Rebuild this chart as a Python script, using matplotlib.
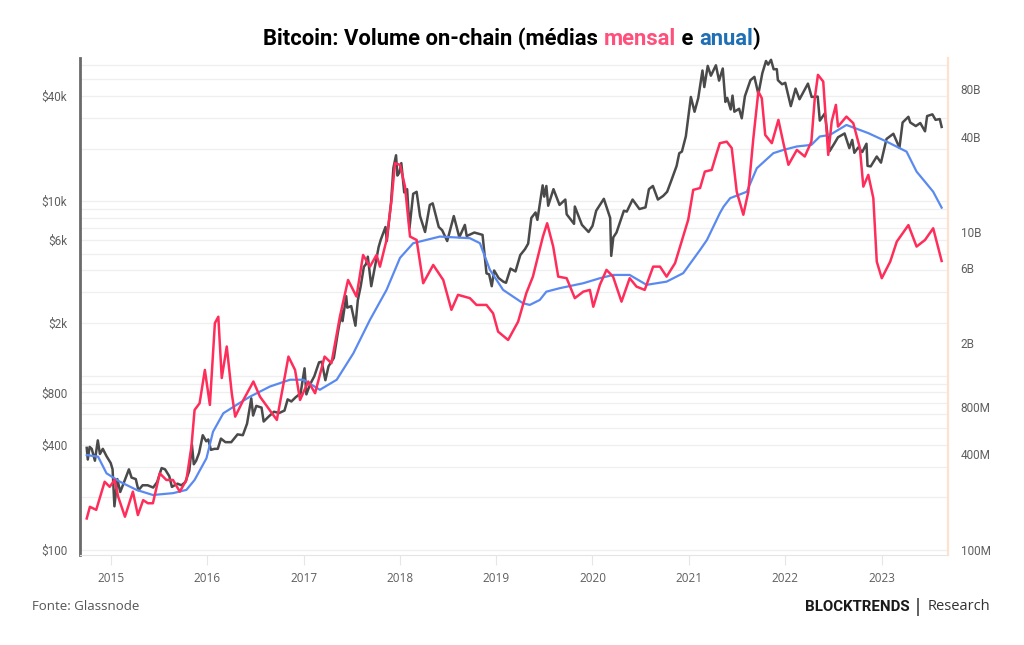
import pandas as pd
import numpy as np
import matplotlib
matplotlib.use('Agg')
import matplotlib.pyplot as plt
import matplotlib.dates as mdates
from matplotlib.ticker import FixedLocator, LogLocator, NullFormatter

# ---- data ----
price_dates = ['2014-10-01', '2014-10-05', '2014-10-12', '2014-10-20', '2014-11-01', '2014-11-12', '2014-11-20',
               '2014-12-01', '2014-12-15', '2014-12-31', '2015-01-07', '2015-01-14', '2015-01-25', '2015-02-05',
               '2015-02-15', '2015-03-10', '2015-03-20', '2015-04-05', '2015-04-15', '2015-05-01', '2015-05-20',
               '2015-06-10', '2015-06-25', '2015-07-12', '2015-07-25', '2015-08-10', '2015-08-20', '2015-09-10',
               '2015-09-25', '2015-10-10', '2015-10-25', '2015-11-04', '2015-11-11', '2015-11-20', '2015-12-01',
               '2015-12-15', '2015-12-28', '2016-01-05', '2016-01-15', '2016-01-28', '2016-02-10', '2016-02-22',
               '2016-03-10', '2016-04-01', '2016-04-25', '2016-05-15', '2016-05-31', '2016-06-16', '2016-06-23',
               '2016-07-05', '2016-07-25', '2016-08-02', '2016-08-20', '2016-09-10', '2016-09-30', '2016-10-20',
               '2016-11-01', '2016-11-15', '2016-12-01', '2016-12-20', '2017-01-04', '2017-01-11', '2017-01-25',
               '2017-02-10', '2017-02-28', '2017-03-10', '2017-03-24', '2017-04-05', '2017-04-25', '2017-05-10',
               '2017-05-25', '2017-05-28', '2017-06-11', '2017-06-15', '2017-06-30', '2017-07-16', '2017-07-25',
               '2017-08-05', '2017-08-17', '2017-08-25', '2017-09-01', '2017-09-14', '2017-09-30', '2017-10-12',
               '2017-10-20', '2017-11-07', '2017-11-12', '2017-11-28', '2017-12-07', '2017-12-17', '2017-12-22',
               '2017-12-29', '2018-01-06', '2018-01-17', '2018-01-28', '2018-02-06', '2018-02-20', '2018-03-05',
               '2018-03-18', '2018-04-06', '2018-04-24', '2018-05-05', '2018-05-28', '2018-06-10', '2018-06-29',
               '2018-07-24', '2018-08-14', '2018-09-04', '2018-09-11', '2018-10-10', '2018-11-10', '2018-11-20',
               '2018-11-25', '2018-12-05', '2018-12-15', '2018-12-24', '2019-01-10', '2019-01-28', '2019-02-07',
               '2019-02-24', '2019-03-15', '2019-04-02', '2019-04-20', '2019-05-02', '2019-05-14', '2019-05-30',
               '2019-06-06', '2019-06-26', '2019-07-02', '2019-07-10', '2019-07-17', '2019-08-06', '2019-08-29',
               '2019-09-20', '2019-09-25', '2019-10-23', '2019-10-26', '2019-11-22', '2019-12-17', '2020-01-01',
               '2020-01-15', '2020-02-13', '2020-03-08', '2020-03-12', '2020-03-20', '2020-04-01', '2020-04-29',
               '2020-05-10', '2020-06-01', '2020-06-27', '2020-07-20', '2020-08-02', '2020-08-17', '2020-09-05',
               '2020-09-25', '2020-10-10', '2020-10-25', '2020-11-15', '2020-11-25', '2020-12-05', '2020-12-20',
               '2021-01-08', '2021-01-22', '2021-02-05', '2021-02-21', '2021-02-28', '2021-03-13', '2021-03-25',
               '2021-04-13', '2021-04-25', '2021-05-09', '2021-05-19', '2021-05-26', '2021-06-08', '2021-06-15',
               '2021-06-22', '2021-07-10', '2021-07-20', '2021-08-01', '2021-08-22', '2021-09-06', '2021-09-21',
               '2021-10-06', '2021-10-20', '2021-10-28', '2021-11-08', '2021-11-18', '2021-11-30', '2021-12-04',
               '2021-12-20', '2022-01-01', '2022-01-22', '2022-02-09', '2022-02-24', '2022-03-28', '2022-04-11',
               '2022-05-04', '2022-05-12', '2022-05-31', '2022-06-18', '2022-07-08', '2022-07-20', '2022-08-14',
               '2022-09-01', '2022-09-12', '2022-09-20', '2022-10-05', '2022-10-20', '2022-11-05', '2022-11-09',
               '2022-11-21', '2022-12-14', '2022-12-30', '2023-01-20', '2023-02-15', '2023-03-10', '2023-03-22',
               '2023-04-13', '2023-04-20', '2023-05-11', '2023-05-28', '2023-06-15', '2023-06-23', '2023-07-13',
               '2023-07-25', '2023-08-10', '2023-08-17']
price_usd = [385, 330, 390, 380, 325, 425, 355,
             380, 345, 315, 290, 178, 255, 215,
             235, 290, 260, 255, 220, 235, 235,
             228, 245, 295, 290, 265, 230, 240,
             235, 245, 285, 400, 310, 325, 360,
             455, 420, 430, 375, 380, 380, 435,
             415, 415, 460, 455, 530, 740, 590,
             670, 655, 545, 580, 620, 610, 630,
             730, 710, 750, 790, 1100, 780, 890,
             990, 1190, 1200, 940, 1130, 1260, 1750,
             2350, 2050, 2850, 2450, 2500, 1930, 2700,
             3250, 4200, 4350, 4800, 3250, 4350, 5450,
             6000, 7100, 5900, 9800, 15500, 18300, 14000,
             14500, 16500, 11200, 11700, 7000, 11000, 11300,
             8200, 6650, 9500, 9700, 7100, 6800, 5900,
             8200, 6200, 7300, 6300, 6600, 6400, 4600,
             3850, 3800, 3250, 4000, 3620, 3450, 3400,
             4100, 3950, 4900, 5300, 5700, 8000, 8600,
             7800, 12300, 10600, 12200, 9400, 11700, 9500,
             10200, 8400, 7400, 9300, 7300, 6650, 7200,
             8800, 10300, 8000, 4850, 6200, 6600, 8800,
             8700, 10200, 9000, 9200, 11700, 12200, 10200,
             10700, 11300, 13000, 15900, 18800, 19200, 23500,
             39500, 32500, 38900, 56000, 45000, 59500, 52300,
             60000, 49000, 57500, 37000, 39000, 33500, 40200,
             32500, 33800, 29800, 39900, 49300, 51500, 41000,
             54000, 63500, 60500, 64500, 56900, 57000, 49300,
             46700, 47600, 35000, 44100, 38300, 47100, 39500,
             39700, 28900, 31800, 19300, 21600, 23200, 24400,
             20100, 22400, 18900, 20300, 19100, 21300, 15900,
             15800, 18000, 16600, 22700, 24300, 20200, 28200,
             30400, 28200, 26900, 28000, 25100, 30700, 31400,
             29200, 29500, 26600]

# monthly average on-chain volume (billions USD)
monthly_dates = ['2014-10-01', '2014-10-13', '2014-11-06', '2014-12-08', '2014-12-27', '2015-01-15', '2015-01-28',
                 '2015-02-23', '2015-03-25', '2015-04-13', '2015-05-03', '2015-05-21', '2015-06-09', '2015-07-05',
                 '2015-07-30', '2015-08-24', '2015-09-19', '2015-10-14', '2015-11-02', '2015-11-14', '2015-12-03',
                 '2015-12-23', '2016-01-11', '2016-01-30', '2016-02-12', '2016-02-25', '2016-03-15', '2016-04-03',
                 '2016-04-16', '2016-05-17', '2016-06-24', '2016-07-19', '2016-09-21', '2016-11-04', '2016-11-29',
                 '2016-12-18', '2017-01-18', '2017-02-13', '2017-03-21', '2017-04-16', '2017-05-18', '2017-06-18',
                 '2017-07-20', '2017-08-14', '2017-09-09', '2017-10-04', '2017-10-17', '2017-11-11', '2017-11-30',
                 '2017-12-13', '2018-01-01', '2018-01-20', '2018-02-08', '2018-03-05', '2018-03-30', '2018-05-07',
                 '2018-06-14', '2018-07-15', '2018-08-09', '2018-09-23', '2018-10-18', '2018-11-25', '2018-12-20',
                 '2019-01-08', '2019-02-15', '2019-03-25', '2019-04-25', '2019-05-20', '2019-06-27', '2019-07-13',
                 '2019-08-05', '2019-08-24', '2019-09-25', '2019-10-26', '2019-11-27', '2019-12-22', '2020-01-04',
                 '2020-01-29', '2020-02-23', '2020-03-19', '2020-04-20', '2020-05-21', '2020-06-16', '2020-07-17',
                 '2020-08-18', '2020-09-13', '2020-10-08', '2020-11-09', '2020-12-04', '2020-12-29', '2021-01-17',
                 '2021-02-12', '2021-03-02', '2021-03-28', '2021-04-16', '2021-04-28', '2021-05-24', '2021-06-12',
                 '2021-07-01', '2021-07-26', '2021-08-14', '2021-09-02', '2021-09-21', '2021-10-04', '2021-10-17',
                 '2021-11-11', '2021-12-06', '2021-12-25', '2022-01-13', '2022-02-14', '2022-03-16', '2022-04-10',
                 '2022-04-23', '2022-05-05', '2022-05-25', '2022-06-13', '2022-06-26', '2022-07-12', '2022-07-20',
                 '2022-08-21', '2022-09-16', '2022-10-11', '2022-10-24', '2022-11-12', '2022-12-01', '2022-12-14',
                 '2023-01-02', '2023-02-03', '2023-02-28', '2023-04-13', '2023-05-14', '2023-06-15', '2023-07-16',
                 '2023-08-17']
monthly_vol_b = [0.158, 0.187, 0.179, 0.269, 0.250, 0.276, 0.217,
                 0.162, 0.233, 0.166, 0.206, 0.197, 0.197, 0.304,
                 0.276, 0.276, 0.233, 0.276, 0.447, 0.761, 0.839,
                 1.36, 0.819, 2.68, 2.94, 1.21, 1.91, 0.970,
                 0.691, 0.880, 1.15, 0.923, 0.659, 1.65, 1.36,
                 0.880, 1.15, 0.970, 1.65, 1.50, 2.94, 5.01,
                 3.94, 7.20, 6.08, 7.20, 6.08, 8.95, 16.0,
                 27.2, 26.6, 19.4, 9.40, 8.95, 4.78, 6.23,
                 5.01, 3.25, 4.04, 3.85, 3.49, 3.49, 3.09,
                 2.37, 2.10, 2.74, 4.14, 5.26, 9.40, 11.4,
                 8.13, 5.26, 5.14, 3.85, 4.23, 4.34, 3.40,
                 4.67, 5.80, 5.26, 3.66, 5.14, 4.55, 4.34,
                 6.08, 6.08, 5.26, 6.39, 8.74, 12.0, 18.5,
                 19.0, 24.1, 24.7, 31.5, 36.4, 37.2, 33.9,
                 18.0, 12.9, 18.0, 39.1, 76.9, 69.9, 41.0,
                 36.4, 51.0, 36.4, 26.6, 33.0, 30.0, 37.2,
                 69.9, 98.0, 88.9, 30.7, 49.8, 63.4, 46.3,
                 53.5, 48.6, 33.9, 19.4, 23.0, 16.4, 6.54,
                 5.14, 6.54, 8.74, 11.1, 8.13, 8.95, 10.6,
                 6.6]

# yearly average on-chain volume (billions USD)
yearly_dates = ['2014-10-01', '2014-11-13', '2014-12-15', '2015-02-04', '2015-04-08', '2015-06-09', '2015-08-24',
                '2015-10-14', '2015-11-14', '2015-12-29', '2016-01-23', '2016-03-02', '2016-05-01', '2016-06-11',
                '2016-08-26', '2016-11-10', '2016-12-31', '2017-03-03', '2017-05-06', '2017-07-08', '2017-09-09',
                '2017-11-11', '2018-01-01', '2018-02-20', '2018-06-01', '2018-09-23', '2018-10-31', '2018-12-08',
                '2019-01-27', '2019-04-12', '2019-05-08', '2019-06-15', '2019-07-10', '2019-08-30', '2019-11-27',
                '2020-01-29', '2020-03-19', '2020-05-21', '2020-07-24', '2020-10-08', '2020-12-10', '2021-02-12',
                '2021-03-10', '2021-04-28', '2021-05-12', '2021-06-06', '2021-08-08', '2021-09-15', '2021-11-17',
                '2021-12-25', '2022-02-14', '2022-04-10', '2022-05-12', '2022-06-19', '2022-08-21', '2022-11-12',
                '2023-01-21', '2023-04-06', '2023-05-14', '2023-06-15', '2023-07-16', '2023-08-17']
yearly_vol_b = [0.396, 0.387, 0.304, 0.269, 0.239, 0.222, 0.228,
                0.239, 0.276, 0.378, 0.556, 0.726, 0.839, 0.923,
                1.07, 1.18, 1.18, 1.02, 1.18, 1.73, 2.81,
                4.34, 6.9, 8.54, 9.40, 9.18, 8.54, 5.80,
                4.34, 3.58, 3.49, 3.75, 4.23, 4.45, 4.78,
                5.14, 5.39, 5.39, 4.67, 4.89, 5.53, 7.75,
                8.95, 13.2, 14.5, 16.4, 18.0, 25.3, 31.5,
                33.0, 34.7, 35.5, 40.1, 41.0, 47.4, 42.1,
                37.2, 32.2, 24.1, 20.8, 18.0, 14.3]

years = [2015, 2016, 2017, 2018, 2019, 2020, 2021, 2022, 2023]
price_ticks = [100, 400, 800, 2000, 6000, 10000, 40000]
price_labels = ['$100', '$400', '$800', '$2k', '$6k', '$10k', '$40k']
vol_ticks = [0.1, 0.4, 0.8, 2, 6, 10, 40, 80]
vol_labels = ['100M', '400M', '800M', '2B', '6B', '10B', '40B', '80B']

GRAY = '#4a4a4a'
RED = '#ff2d5a'
BLUE = '#5a8af0'
LABEL = '#5f5f5f'

fig = plt.figure(figsize=(10.24, 6.45), dpi=100)
ax1 = fig.add_axes([0.078, 0.1395, 0.848, 0.7705])
ax2 = ax1.twinx()

ax1.plot(pd.to_datetime(price_dates), price_usd, color=GRAY, lw=1.8, zorder=3)
ax2.plot(pd.to_datetime(yearly_dates), np.array(yearly_vol_b) * 1e9, color=BLUE, lw=1.6, zorder=3)
ax2.plot(pd.to_datetime(monthly_dates), np.array(monthly_vol_b) * 1e9, color=RED, lw=1.8, zorder=4)

ax1.set_yscale('log')
ax2.set_yscale('log')
ax1.set_ylim(93.6, 66000)
ax2.set_ylim(0.93e8, 1.25e11)
ax1.set_xlim(pd.Timestamp('2014-09-05'), pd.Timestamp('2023-09-11'))

# light grid
ax1.yaxis.set_minor_locator(LogLocator(base=10, subs=np.arange(1, 10)))
ax1.yaxis.set_minor_formatter(NullFormatter())
ax1.grid(True, which='both', axis='y', color='#efefef', lw=0.9, zorder=0)
ax1.set_axisbelow(True)

ax1.yaxis.set_major_locator(FixedLocator(price_ticks))
ax1.set_yticklabels(price_labels)
ax2.yaxis.set_major_locator(FixedLocator([v * 1e9 for v in vol_ticks]))
ax2.set_yticklabels(vol_labels)
ax2.yaxis.set_minor_locator(FixedLocator([]))

ax1.tick_params(axis='y', which='both', length=0, pad=9, labelsize=8.5, labelcolor=LABEL)
ax2.tick_params(axis='y', which='both', length=0, pad=9, labelsize=8.5, labelcolor=LABEL)
for lab in ax1.get_yticklabels() + ax2.get_yticklabels():
    lab.set_fontfamily('Roboto')

ax1.set_xticks([pd.Timestamp(f'{y}-01-01') for y in years])
ax1.xaxis.set_major_formatter(mdates.DateFormatter('%Y'))
ax1.tick_params(axis='x', length=7, width=0.8, color='#e6e6e6', pad=5, labelsize=8.5, labelcolor=LABEL)
for lab in ax1.get_xticklabels():
    lab.set_fontfamily('Open Sans')

for ax in (ax1, ax2):
    ax.spines['top'].set_visible(False)
ax1.spines['left'].set_color('#6a6a6a')
ax1.spines['left'].set_linewidth(2)
ax2.spines['left'].set_visible(False)
ax1.spines['right'].set_visible(False)
ax2.spines['right'].set_color('#fde2cf')
ax2.spines['right'].set_linewidth(1.6)
ax1.spines['bottom'].set_color('#e4e4e4')
ax2.spines['bottom'].set_visible(False)

# multi-colour title
parts = [('Bitcoin: Volume on-chain (médias ', 'black'), ('mensal', '#ff4f7b'),
         (' e ', 'black'), ('anual', '#1f6fb5'), (')', 'black')]
fig.canvas.draw()
rend = fig.canvas.get_renderer()
texts = []
widths = []
for s, c in parts:
    t = fig.text(0, 0.94, s, color=c, fontsize=15.8, fontweight='bold', family='Roboto',
                 ha='left', va='center')
    texts.append(t)
    widths.append(t.get_window_extent(renderer=rend).width / fig.bbox.width)
x = 0.5 - sum(widths) / 2
for t, w in zip(texts, widths):
    t.set_x(x)
    x += w

fig.text(0.031, 0.059, 'Fonte: Glassnode', fontsize=9.5, color='#555555', family='Open Sans',
         ha='left', va='center')
fig.text(0.888, 0.059, 'BLOCKTRENDS', fontsize=10.8, color='#1a1a1a', family='Roboto',
         fontweight='bold', ha='right', va='center')
fig.text(0.896, 0.059, '|', fontsize=13, color='#333333', ha='center', va='center')
fig.text(0.906, 0.059, 'Research', fontsize=10.5, color='#333333', family='Open Sans',
         ha='left', va='center')

plt.savefig('out.png', dpi=100, facecolor='white')
